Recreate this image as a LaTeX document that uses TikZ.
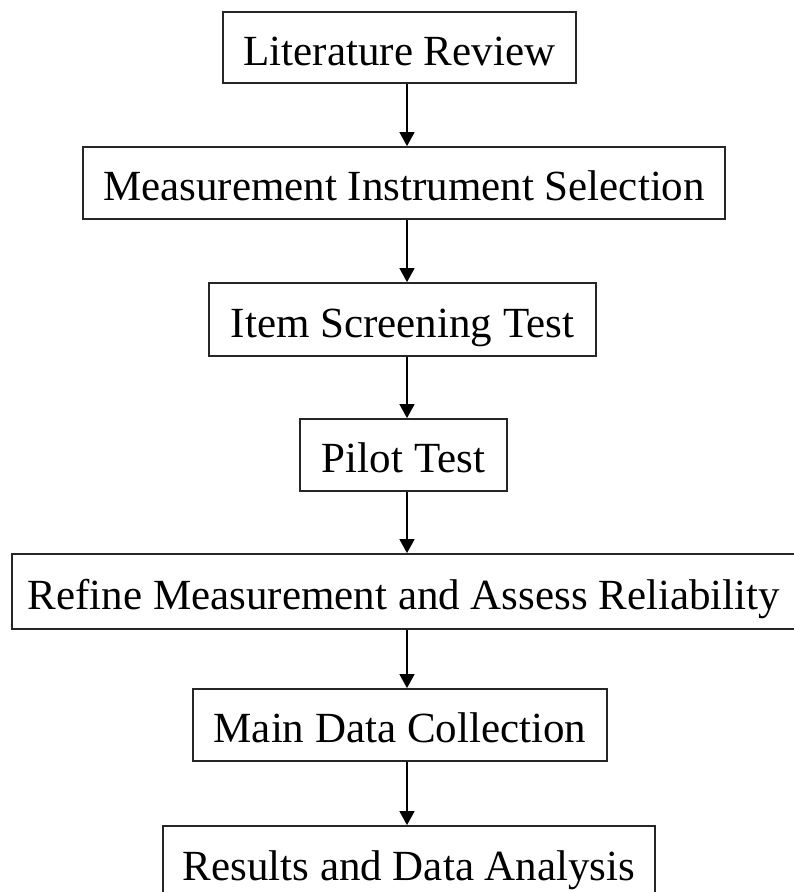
\documentclass[tikz,border=0pt]{standalone}
\usepackage{fontspec}
\setmainfont{Liberation Serif}
\usetikzlibrary{arrows.meta}
\begin{document}
\begin{tikzpicture}[x=1pt,y=-1pt,
  stepbox/.style={draw=black!85, line width=1.8pt, inner sep=0pt,
    text height=35pt, text depth=0pt, align=center,
    font=\fontsize{43}{50}\selectfont},
  arr/.style={line width=1.5pt, draw=black, -{Triangle[length=14pt,width=15pt]}}]
\useasboundingbox (0,0) rectangle (793,892);
\fill[white] (0,0) rectangle (793,892);
\node[stepbox, minimum width=353pt, minimum height=71pt] (b1) at (399.5,47.5) {Literature Review};
\node[stepbox, minimum width=642pt, minimum height=72pt] (b2) at (404,183) {Measurement Instrument Selection};
\node[stepbox, minimum width=387pt, minimum height=73pt] (b3) at (402.5,319.5) {Item Screening Test};
\node[stepbox, minimum width=207pt, minimum height=72pt] (b4) at (403.5,455) {Pilot Test};
\node[stepbox, minimum width=784pt, minimum height=75pt] (b5) at (404,591.5) {Refine Measurement and Assess Reliability};
\node[stepbox, minimum width=414pt, minimum height=72pt] (b6) at (400,725) {Main Data Collection};
\node[stepbox, minimum width=492pt, minimum height=74pt] (b7) at (409,863) {Results and Data Analysis};
\coordinate (ax) at (407,0);
\draw[arr] (b1.south -| ax) -- (b2.north -| ax);
\draw[arr] (b2.south -| ax) -- (b3.north -| ax);
\draw[arr] (b3.south -| ax) -- (b4.north -| ax);
\draw[arr] (b4.south -| ax) -- (b5.north -| ax);
\draw[arr] (b5.south -| ax) -- (b6.north -| ax);
\draw[arr] (b6.south -| ax) -- (b7.north -| ax);
\end{tikzpicture}
\end{document}
